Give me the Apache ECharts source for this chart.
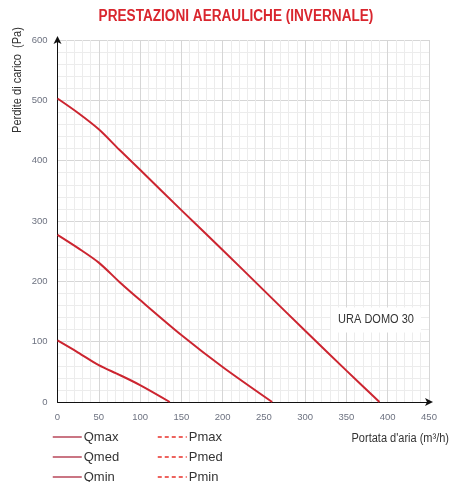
<!DOCTYPE html>
<html>
<head>
<meta charset="utf-8">
<script src="https://cdn.jsdelivr.net/npm/echarts@6/dist/echarts.min.js"></script>
<style>
  html, body { margin: 0; padding: 0; background: #fff; }
  #chart { width: 450px; height: 482px; }
</style>
</head>
<body>
<div id="chart"></div>
<script>
// curve points: [portata m3/h, perdite Pa]
const qmax = [[0, 503], [25, 479], [50, 452], [75, 418], [100, 385], [150, 318], [200, 252], [250, 185], [300, 118], [350, 52], [390, 0]]
const qmed = [[0, 277], [25, 255], [50, 231], [75, 199], [100, 169], [150, 111], [200, 58], [260, 0]]
const qmin = [[0, 102], [25, 82], [50, 61], [75, 45], [100, 28], [136, 0]]
const legendQ = ['Qmax', 'Qmed', 'Qmin']
const legendP = ['Pmax', 'Pmed', 'Pmin']

const lineRed = '#cc2530'
const dashRed = '#e8302a'
const font = 'Liberation Sans, Arial, sans-serif'

const chart = echarts.init(document.getElementById('chart'))

function solid(name, data) {
  return {
    name: name,
    type: 'line',
    data: data,
    smooth: 0.3,
    symbol: 'none',
    lineStyle: { color: lineRed, width: 2 },
    itemStyle: { color: lineRed }
  }
}
function dashed(name) {
  return {
    name: name,
    type: 'line',
    data: [],
    symbol: 'none',
    lineStyle: { color: dashRed, width: 1.5, type: [4, 3] },
    itemStyle: { color: dashRed }
  }
}

function legendCol(names, left, lineColor) {
  return {
    data: names,
    orient: 'vertical',
    left: left,
    top: 430,
    height: 80,
    padding: 0,
    itemWidth: 29,
    itemHeight: 14,
    itemGap: 6,
    itemStyle: { opacity: 0 },
    lineStyle: { color: lineColor, width: 1.5 },
    textStyle: { fontFamily: font, fontSize: 13, lineHeight: 14, color: '#333', padding: [0, 0, 0, -3] }
  }
}

const axisCommon = {
  type: 'value',
  axisLine: { show: true, symbol: ['none', 'arrow'], symbolSize: [6, 8], symbolOffset: [0, 4], lineStyle: { color: '#111', width: 1 } },
  axisTick: { show: false },
  axisLabel: { color: '#6d7280', fontSize: 9.5, fontFamily: font, margin: 10 },
  splitLine: { show: true, lineStyle: { color: '#d6d6d6', width: 1 } },
  minorSplitLine: { show: true, lineStyle: { color: '#ececec', width: 1 } },
  minorTick: { show: false, splitNumber: 5 }
}

chart.setOption({
  animation: false,
  grid: { left: 57.5, right: 21, top: 40, bottom: 80 },
  legend: [legendCol(legendQ, 52, '#b9475a'), legendCol(legendP, 157, dashRed)],
  xAxis: Object.assign({ min: 0, max: 450, interval: 50 }, axisCommon),
  yAxis: Object.assign({ min: 0, max: 600, interval: 100 }, axisCommon),
  graphic: [
    {
      type: 'text',
      x: 236,
      y: 17,
      scaleX: 0.85,
      style: { text: 'PRESTAZIONI AERAULICHE (INVERNALE)', fill: '#d9262e', font: 'bold 16px ' + font, align: 'center', verticalAlign: 'middle' }
    },
    {
      type: 'text',
      x: 18,
      y: 80,
      rotation: Math.PI / 2,
      scaleX: 0.88,
      style: { text: 'Perdite di carico  (Pa)', fill: '#333', font: '12.5px ' + font, align: 'center', verticalAlign: 'middle' }
    },
    {
      type: 'text',
      x: 449,
      y: 439,
      scaleX: 0.88,
      style: { text: "Portata d'aria (m³/h)", fill: '#333', font: '12.5px ' + font, align: 'right', verticalAlign: 'middle' }
    },
    {
      type: 'text',
      x: 376,
      y: 320,
      z: 10,
      scaleX: 0.88,
      style: {
        text: 'URA DOMO 30', fill: '#333', font: '12.5px ' + font, align: 'center', verticalAlign: 'middle',
        backgroundColor: '#fff', padding: [6, 8]
      }
    }
  ],
  series: [
    solid('Qmax', qmax),
    solid('Qmed', qmed),
    solid('Qmin', qmin),
    dashed('Pmax'),
    dashed('Pmed'),
    dashed('Pmin')
  ]
})
</script>
</body>
</html>
